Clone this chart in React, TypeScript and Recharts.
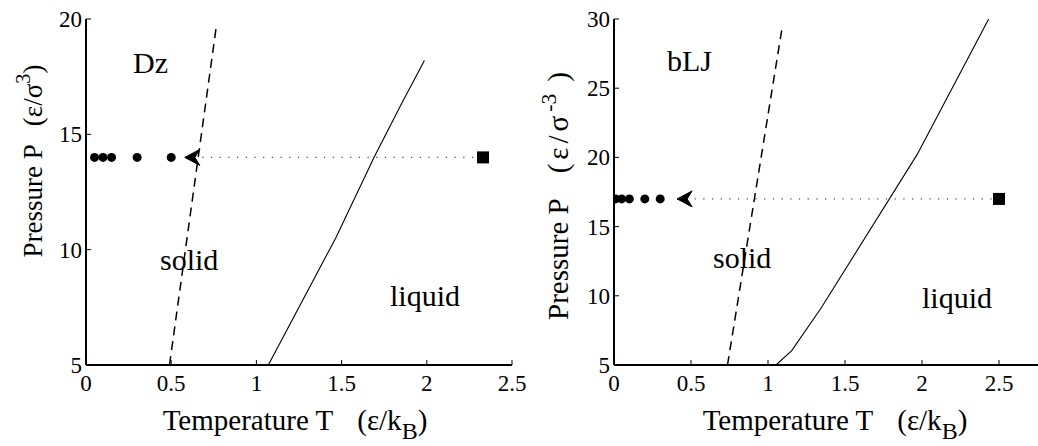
import React from "react";
import { ComposedChart, Line, Scatter, XAxis, YAxis, Label } from "recharts";

const FONT = "Liberation Serif, DejaVu Serif, serif";
const txt = (size: number) => ({ fontFamily: FONT, fontSize: size });

// Dz panel
const dzTicksT = [0, 0.5, 1, 1.5, 2, 2.5];
const dzTicksP = [5, 10, 15, 20];
const dzDashT = [0.49, 0.767];
const dzDashP = [5, 19.8];
const dzMeltT = [1.07, 1.465, 1.69, 1.85, 1.986];
const dzMeltP = [5, 10.5, 14.0, 16.3, 18.2];
const dzQuenchT = [0.05, 0.1, 0.15, 0.3, 0.5];
const dzQuenchP = 14;
const dzStartT = 2.33;
const dzArrowT = 0.58;
const dzLabels = ["Dz", "solid", "liquid"];
const dzLabelT = [0.276, 0.434, 1.784];
const dzLabelP = [17.66, 9.12, 7.56];

// bLJ panel
const bljTicksT = [0, 0.5, 1, 1.5, 2, 2.5];
const bljTicksP = [5, 10, 15, 20, 25, 30];
const bljDashT = [0.737, 1.095];
const bljDashP = [5, 29.6];
const bljMeltT = [1.052, 1.154, 1.344, 1.968, 2.433];
const bljMeltP = [5, 6.04, 9.1, 20.2, 30];
const bljQuenchT = [0.01, 0.05, 0.1, 0.2, 0.3];
const bljQuenchP = 17;
const bljStartT = 2.5;
const bljArrowT = 0.41;
const bljLabels = ["bLJ", "solid", "liquid"];
const bljLabelT = [0.344, 0.643, 2.0];
const bljLabelP = [26.24, 12.0, 9.12];

const pts = (ts: number[], ps: number[]) => ts.map((T, i) => ({ T, P: ps[i] }));

const TICK_LEN = 5;

const BottomTick = (props: any) => {
  const { x, y, payload } = props;
  return (
    <g>
      <line x1={x} x2={x} y1={y} y2={y - TICK_LEN} stroke="#000" strokeWidth={1} />
      <text x={x} y={y + 26} textAnchor="middle" style={txt(23)} fill="#000">
        {String(payload.value)}
      </text>
    </g>
  );
};

const TopTick = (props: any) => {
  const { x, y } = props;
  return <line x1={x} x2={x} y1={y} y2={y + TICK_LEN} stroke="#000" strokeWidth={1} />;
};

const LeftTick = (props: any) => {
  const { x, y, payload } = props;
  return (
    <g>
      <line x1={x} x2={x + TICK_LEN} y1={y} y2={y} stroke="#000" strokeWidth={1} />
      <text x={x - 4} y={y} dy="0.35em" textAnchor="end" style={txt(23)} fill="#000">
        {String(payload.value)}
      </text>
    </g>
  );
};

const RightTick = (props: any) => {
  const { x, y } = props;
  return <line x1={x} x2={x - TICK_LEN} y1={y} y2={y} stroke="#000" strokeWidth={1} />;
};

const Dot = (p: any) => <circle cx={p.cx} cy={p.cy} r={4.5} fill="#000" />;
const Square = (p: any) => <rect x={p.cx - 6} y={p.cy - 6} width={12} height={12} fill="#000" />;
const ArrowHead = (p: any) => (
  <path d={`M${p.cx},${p.cy} l15,-8 l-5,8 l5,8 z`} fill="#000" stroke="#000" strokeWidth={1} />
);
const RegionText = (p: any) => (
  <text x={p.cx} y={p.cy} style={txt(30)} fill="#000">
    {p.payload.text}
  </text>
);

const xTitle = (dx: number) => (props: any) => {
  const { x, y, width } = props.viewBox;
  return (
    <text x={x + width / 2 + dx} y={y + 65} textAnchor="middle" style={txt(29)} fill="#000">
      <tspan>Temperature T</tspan>
      <tspan dx={24}>(ε/k</tspan>
      <tspan fontSize={24} dy={9}>B</tspan>
      <tspan dy={-9}>)</tspan>
    </text>
  );
};

type YTitle = { bx: number; cy: number; size: number; gap: number; inner: number; sup: string; close: number };

const yTitle = (t: YTitle) => (props: any) => {
  const { x } = props.viewBox;
  return (
    <text transform={`translate(${x + t.bx},${t.cy}) rotate(-90)`} textAnchor="middle" style={txt(t.size)} fill="#000">
      <tspan>Pressure P</tspan>
      <tspan dx={t.gap}>(</tspan>
      <tspan dx={t.inner}>ε</tspan>
      <tspan dx={t.inner}>/</tspan>
      <tspan dx={t.inner}>σ</tspan>
      <tspan dx={t.inner} fontSize={t.size * 0.75} dy={-12}>{t.sup}</tspan>
      <tspan dx={t.close} dy={12}>)</tspan>
    </text>
  );
};

type Pt = { T: number; P: number };

type PanelProps = {
  width: number;
  marginLeft: number;
  marginRight: number;
  xDomain: [number, number];
  yDomain: [number, number];
  xTicks: number[];
  yTicks: number[];
  dash: Pt[];
  melt: Pt[];
  quench: Pt[];
  start: Pt[];
  arrow: Pt[];
  labels: (Pt & { text: string })[];
  xTitleDx: number;
  yTitle: YTitle;
};

function Panel(p: PanelProps) {
  const axisLine = { stroke: "#000", strokeWidth: 2 };
  return (
    <ComposedChart
      width={p.width}
      height={446}
      margin={{ top: 19, right: p.marginRight, bottom: 31, left: p.marginLeft }}
    >
      <XAxis
        xAxisId={0}
        type="number"
        dataKey="T"
        domain={p.xDomain}
        ticks={p.xTicks}
        interval={0}
        allowDataOverflow
        height={50}
        axisLine={axisLine}
        tickLine={false}
        tickSize={0}
        tickMargin={0}
        tick={<BottomTick />}
        label={<Label content={xTitle(p.xTitleDx)} />}
      />
      <XAxis
        xAxisId="top"
        orientation="top"
        type="number"
        dataKey="T"
        domain={p.xDomain}
        ticks={p.xTicks}
        interval={0}
        allowDataOverflow
        height={0}
        axisLine={axisLine}
        tickLine={false}
        tickSize={0}
        tickMargin={0}
        tick={<TopTick />}
      />
      <YAxis
        yAxisId={0}
        type="number"
        dataKey="P"
        domain={p.yDomain}
        ticks={p.yTicks}
        interval={0}
        allowDataOverflow
        width={60}
        axisLine={axisLine}
        tickLine={false}
        tickSize={0}
        tickMargin={0}
        tick={<LeftTick />}
        label={<Label content={yTitle(p.yTitle)} />}
      />
      <YAxis
        yAxisId="right"
        orientation="right"
        type="number"
        dataKey="P"
        domain={p.yDomain}
        ticks={p.yTicks}
        interval={0}
        allowDataOverflow
        width={0}
        axisLine={axisLine}
        tickLine={false}
        tickSize={0}
        tickMargin={0}
        tick={<RightTick />}
      />
      <Line
        data={p.dash}
        dataKey="P"
        type="linear"
        stroke="#000"
        strokeWidth={1.5}
        strokeDasharray="9 6"
        dot={false}
        isAnimationActive={false}
      />
      <Line
        data={p.melt}
        dataKey="P"
        type="linear"
        stroke="#000"
        strokeWidth={1.1}
        dot={false}
        isAnimationActive={false}
      />
      <Line
        data={[p.arrow[0], p.start[0]]}
        dataKey="P"
        type="linear"
        stroke="#444"
        strokeWidth={1.2}
        strokeDasharray="1.2 7.5"
        dot={false}
        isAnimationActive={false}
      />
      <Scatter data={p.quench} dataKey="P" shape={Dot} isAnimationActive={false} />
      <Scatter data={p.start} dataKey="P" shape={Square} isAnimationActive={false} />
      <Scatter data={p.arrow} dataKey="P" shape={ArrowHead} isAnimationActive={false} />
      <Scatter data={p.labels} dataKey="P" shape={RegionText} isAnimationActive={false} />
    </ComposedChart>
  );
}

export default function App() {
  const dzP = dzQuenchT.map(() => dzQuenchP);
  const bljP = bljQuenchT.map(() => bljQuenchP);
  return (
    <div
      style={{
        position: "fixed",
        left: 0,
        top: 0,
        width: 1038,
        height: 446,
        overflow: "hidden",
        background: "#fff",
      }}
    >
      <div style={{ position: "absolute", left: 0, top: 0 }}>
        <Panel
          width={530}
          marginLeft={26}
          marginRight={18}
          xDomain={[0, 2.5]}
          yDomain={[5, 20]}
          xTicks={dzTicksT}
          yTicks={dzTicksP}
          dash={pts(dzDashT, dzDashP)}
          melt={pts(dzMeltT, dzMeltP)}
          quench={pts(dzQuenchT, dzP)}
          start={[{ T: dzStartT, P: dzQuenchP }]}
          arrow={[{ T: dzArrowT, P: dzQuenchP }]}
          labels={dzLabels.map((text, i) => ({ text, T: dzLabelT[i], P: dzLabelP[i] }))}
          xTitleDx={-4}
          yTitle={{ bx: 16, cy: 161, size: 27, gap: 18, inner: 0, sup: "3", close: 0 }}
        />
      </div>
      <div style={{ position: "absolute", left: 530, top: 0 }}>
        <Panel
          width={556}
          marginLeft={24}
          marginRight={10}
          xDomain={[0, 3]}
          yDomain={[5, 30]}
          xTicks={bljTicksT}
          yTicks={bljTicksP}
          dash={pts(bljDashT, bljDashP)}
          melt={pts(bljMeltT, bljMeltP)}
          quench={pts(bljQuenchT, bljP)}
          start={[{ T: bljStartT, P: bljQuenchP }]}
          arrow={[{ T: bljArrowT, P: bljQuenchP }]}
          labels={bljLabels.map((text, i) => ({ text, T: bljLabelT[i], P: bljLabelP[i] }))}
          xTitleDx={-10}
          yTitle={{ bx: 14, cy: 196, size: 29, gap: 25, inner: 4, sup: "-3", close: 12 }}
        />
      </div>
    </div>
  );
}
